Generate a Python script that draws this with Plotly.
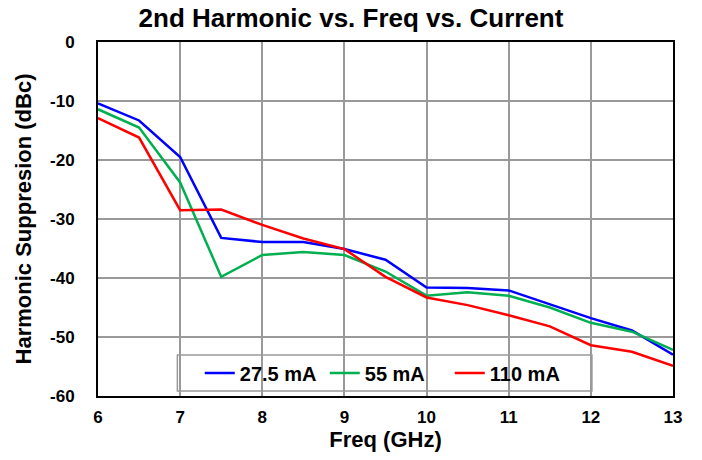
import plotly.graph_objects as go

freq = [6, 6.5, 7, 7.5, 8, 8.5, 9, 9.5, 10, 10.5, 11, 11.5, 12, 12.5, 13]
s_27_5 = [-10.4, -13.3, -19.5, -33.2, -33.9, -33.9, -35.1, -36.9, -41.6, -41.7, -42.1, -44.4, -46.8, -48.9, -53.0]
s_55 = [-11.4, -14.5, -23.8, -39.8, -36.1, -35.6, -36.1, -38.9, -43.0, -42.4, -43.0, -45.0, -47.6, -49.1, -52.2]
s_110 = [-12.9, -16.2, -28.5, -28.4, -31.0, -33.3, -35.1, -39.8, -43.3, -44.6, -46.3, -48.2, -51.4, -52.5, -54.9]

y_ticks = [0, -10, -20, -30, -40, -50, -60]
y_tick_labels = ["0", "-10", "-20", "-30", "-40", "-50", "-60"]

names = ["27.5 mA", "55 mA", "110 mA"]
colors = ["#0000FF", "#00B050", "#FF0000"]

fig = go.Figure()
for name, ys, c in zip(names, [s_27_5, s_55, s_110], colors):
    fig.add_trace(go.Scatter(x=freq, y=ys, mode="lines", name=name,
                             line=dict(color=c, width=2.5)))

# legend frame (white box hiding gridlines, drawn between grid and traces)
fig.add_shape(type="rect", xref="paper", yref="paper", x0=0.138, x1=0.859, y0=0.014, y1=0.116,
              fillcolor="white", line=dict(color="#999999", width=1.5), layer="between")

font = "Liberation Sans, Arial, sans-serif"
fig.update_layout(
    width=702, height=460,
    margin=dict(l=98, r=29, t=42, b=64),
    paper_bgcolor="white", plot_bgcolor="white",
    font=dict(family=font, size=17, color="black"),
    title=dict(text="<b>2nd Harmonic vs. Freq vs. Current</b>", x=0.5, xanchor="center",
               y=0.962, yanchor="middle", font=dict(size=26, family=font)),
    xaxis=dict(range=[6, 13], dtick=1, showgrid=True, gridcolor="#999999", gridwidth=1.5,
               showline=True, linecolor="black", linewidth=2, mirror=True, automargin=False,
               tickfont=dict(size=17, family=font, weight="bold"), ticklabelstandoff=5,
               title=dict(text="<b>Freq (GHz)</b>", font=dict(size=22), standoff=5),
               zeroline=False),
    yaxis=dict(range=[-60, 0], tickvals=y_ticks, ticktext=y_tick_labels,
               showgrid=True, gridcolor="#999999", gridwidth=1.5,
               showline=True, linecolor="black", linewidth=2, mirror=True, automargin=False,
               tickfont=dict(size=17, family=font, weight="bold"), ticklabelstandoff=18,
               title=dict(text="<b>Harmonic Suppresion (dBc)</b>", font=dict(size=22), standoff=12),
               zeroline=False),
    legend=dict(orientation="h", x=0.177, y=0.065, xanchor="left", yanchor="middle",
                bgcolor="rgba(0,0,0,0)", borderwidth=0,
                font=dict(size=20, family=font, weight="bold"),
                itemwidth=30, entrywidth=80, entrywidthmode="pixels"),
    showlegend=True,
)
fig.write_html("out.html", config={"displayModeBar": False},
               post_script="document.body.style.margin='0';document.body.style.overflow='hidden';")
